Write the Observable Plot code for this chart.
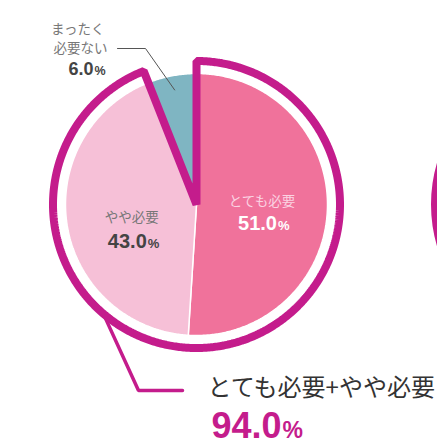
<!DOCTYPE html>
<html><head><meta charset="utf-8">
<script src="https://cdn.jsdelivr.net/npm/d3@7"></script>
<script src="https://cdn.jsdelivr.net/npm/@observablehq/plot@0.6"></script>
<style>
html,body{margin:0;padding:0;background:#fff;overflow:hidden;}
</style></head><body><div id="chart"></div>
<script>
// ---- data ----
const categories = ["とても必要", "やや必要", "まったく必要ない"];
const labelLines = [["とても必要"], ["やや必要"], ["まったく", "必要ない"]];
const values = [51.0, 43.0, 6.0];
const colors = ["#f0729b", "#f6c0d7", "#7fb5c2"];
const totalLabel = "とても必要+やや必要";
const totalValue = 94.0;

// ---- layout (pixels) ----
const W = 437, H = 444;
const CX = 196, CY = 204, R = 131;          // pie center / radius
const RO = 143.5 / R;                        // outline radius (units)
const MAGENTA = "#c41c8c";
const nextPieCX = 578;                       // neighbouring pie (cut off)

const ux = px => (px - CX) / R;
const uy = py => (CY - py) / R;

const arcs = d3.pie().sort(null).value(d => d)(values);
const arcPts = (a0, a1, r) => {
  const n = Math.max(2, Math.ceil(Math.abs(a1 - a0) / 0.01));
  return d3.range(n + 1).map(i => {
    const a = a0 + (a1 - a0) * i / n;
    return {x: r * Math.sin(a), y: r * Math.cos(a)};
  });
};
const O = {x: 0, y: 0};

const sliceMarks = arcs.map((a, i) =>
  Plot.line([O, ...arcPts(a.startAngle, a.endAngle, 1), O],
    {x: "x", y: "y", fill: colors[i], stroke: "white", strokeWidth: 1.5, strokeLinejoin: "miter"}));

// outline around the "necessary" share (first two slices)
const s0 = arcs[0].startAngle, s1 = arcs[1].endAngle, sm = (s0 + s1) / 2;
const outline = [...arcPts(sm, s1, RO), O, ...arcPts(s0, sm, RO)];

// leader for total
const la = 220.5 * Math.PI / 180;
const totalLeader = [
  {x: RO * Math.sin(la), y: RO * Math.cos(la)},
  {x: ux(138), y: uy(390)},
  {x: ux(182), y: uy(390)}
];
// leader for the small slice
const tm = (arcs[2].startAngle + arcs[2].endAngle) / 2;
const smallLeader = [
  {x: 0.89 * Math.sin(tm), y: 0.89 * Math.cos(tm)},
  {x: ux(145), y: uy(48)},
  {x: ux(117), y: uy(48)}
];

// inner labels
const cen = i => {
  const a = (arcs[i].startAngle + arcs[i].endAngle) / 2;
  return {x: 0.5 * Math.sin(a), y: 0.5 * Math.cos(a)};
};
const nameDy = [-1, 7], valDy = [23, 33];
const nameFill = ["#fbd3e2", "#777777"], valFill = ["#ffffff", "#444444"];
const JP = "'Noto Sans CJK JP', 'Noto Sans', sans-serif";
const NUM = "'Liberation Sans', Arial, sans-serif";

const innerMarks = [];
[0, 1].forEach(i => {
  const c = cen(i);
  innerMarks.push(Plot.text([c], {x: "x", y: "y", text: [labelLines[i][0]], dy: nameDy[i],
    lineAnchor: "bottom", textAnchor: "middle", fontSize: 13.5, fontFamily: JP, fill: nameFill[i]}));
  innerMarks.push(Plot.text([c], {x: "x", y: "y", text: [values[i].toFixed(1)], dy: valDy[i], dx: 15,
    lineAnchor: "bottom", textAnchor: "end", fontSize: 20, fontWeight: "bold", fontFamily: NUM, fill: valFill[i]}));
  innerMarks.push(Plot.text([c], {x: "x", y: "y", text: ["%"], dy: valDy[i], dx: 16,
    lineAnchor: "bottom", textAnchor: "start", fontSize: 13, fontWeight: "bold", fontFamily: NUM, fill: valFill[i]}));
});

const sp = smallLeader[2];
const smallMarks = [
  Plot.text([sp], {x: "x", y: "y", text: [labelLines[2][0]], dx: -13, dy: -15, lineAnchor: "bottom",
    textAnchor: "end", fontSize: 13.5, fontFamily: JP, fill: "#777777"}),
  Plot.text([sp], {x: "x", y: "y", text: [labelLines[2][1]], dx: -10, dy: 4, lineAnchor: "bottom",
    textAnchor: "end", fontSize: 13.5, fontFamily: JP, fill: "#777777"}),
  Plot.text([sp], {x: "x", y: "y", text: [values[2].toFixed(1)], dx: -24, dy: 26, lineAnchor: "bottom",
    textAnchor: "end", fontSize: 18, fontWeight: "bold", fontFamily: NUM, fill: "#444444"}),
  Plot.text([sp], {x: "x", y: "y", text: ["%"], dx: -23, dy: 26, lineAnchor: "bottom",
    textAnchor: "start", fontSize: 12.5, fontWeight: "bold", fontFamily: NUM, fill: "#444444"})
];

const tp = totalLeader[2];
const totalMarks = [
  Plot.text([tp], {x: "x", y: "y", text: [totalLabel], dx: 25, dy: 5, lineAnchor: "bottom",
    textAnchor: "start", fontSize: 24, fontFamily: JP, fill: "#333333"}),
  Plot.text([tp], {x: "x", y: "y", text: [totalValue.toFixed(1)], dx: 99, dy: 47, lineAnchor: "bottom",
    textAnchor: "end", fontSize: 36, fontWeight: "bold", fontFamily: NUM, fill: MAGENTA}),
  Plot.text([tp], {x: "x", y: "y", text: ["%"], dx: 100, dy: 47, lineAnchor: "bottom",
    textAnchor: "start", fontSize: 23, fontWeight: "bold", fontFamily: NUM, fill: MAGENTA})
];

const chart = Plot.plot({
  width: W, height: H, margin: 0,
  x: {domain: [ux(0), ux(W)], range: [0, W], axis: null},
  y: {domain: [uy(0), uy(H)], range: [0, H], axis: null},
  style: {overflow: "hidden", background: "white"},
  marks: [
    ...sliceMarks,
    Plot.line(outline, {x: "x", y: "y", stroke: MAGENTA, strokeWidth: 8, strokeLinejoin: "miter", fill: "none"}),
    Plot.dot([{x: ux(nextPieCX), y: 0}], {x: "x", y: "y", r: RO * R, stroke: MAGENTA, strokeWidth: 8, fill: "none"}),
    Plot.line(totalLeader, {x: "x", y: "y", stroke: MAGENTA, strokeWidth: 3.5, strokeLinejoin: "miter"}),
    Plot.line(smallLeader, {x: "x", y: "y", stroke: "#555555", strokeWidth: 1}),
    ...innerMarks,
    ...smallMarks,
    ...totalMarks
  ]
});
document.getElementById("chart").appendChild(chart);
</script></body></html>
